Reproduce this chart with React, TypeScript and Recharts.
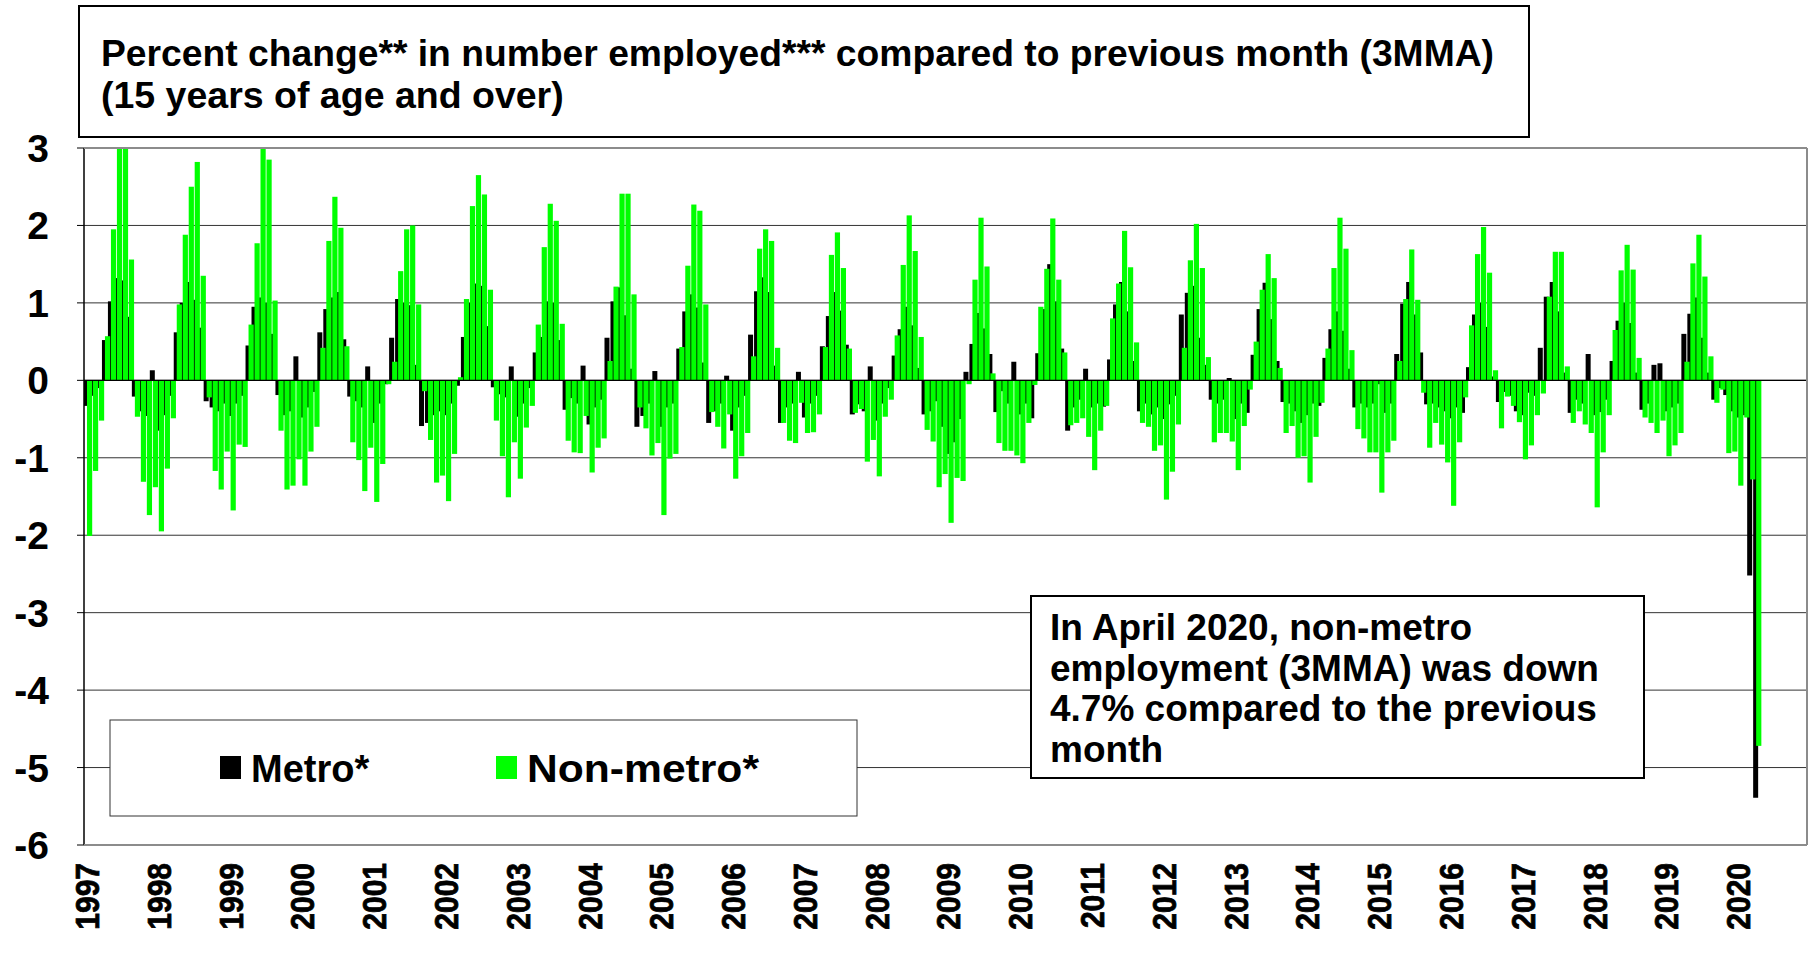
import { BarChart, Bar, XAxis, YAxis, CartesianGrid, ReferenceLine } from 'recharts'

// Year labels on the category axis (Jan of each year)
const years = [
  '1997', '1998', '1999', '2000', '2001', '2002', '2003', '2004', '2005', '2006', '2007', '2008',
  '2009', '2010', '2011', '2012', '2013', '2014', '2015', '2016', '2017', '2018', '2019', '2020',
]
const monthCodes = ['01', '02', '03', '04', '05', '06', '07', '08', '09', '10', '11', '12']
const yTicks = [-6, -5, -4, -3, -2, -1, 0, 1, 2, 3]

// Metro*: % change vs previous month (3MMA), Jan 1997 - Apr 2020, one line per year
const metro = [
  -0.33, -0.2, -0.1, 0.52, 1.02, 1.32, 1.29, 0.82, -0.21, -0.4, -0.46, 0.13,
  -0.65, -0.45, -0.2, 0.62, 1.0, 1.27, 1.04, 0.68, -0.27, -0.35, -0.4, -0.3,
  -0.46, -0.3, -0.2, 0.45, 0.95, 1.07, 1.0, 0.6, -0.19, -0.45, -0.4, 0.31,
  -0.48, -0.35, -0.15, 0.62, 0.92, 1.07, 1.14, 0.53, -0.21, -0.27, -0.35, 0.18,
  -0.55, -0.3, -0.05, 0.55, 1.05, 1.0, 0.97, 0.2, -0.59, -0.55, -0.45, -0.4,
  -0.45, -0.3, -0.07, 0.56, 1.0, 1.25, 1.22, 0.7, -0.09, -0.18, -0.22, 0.18,
  -0.47, -0.3, -0.1, 0.36, 0.56, 1.02, 1.0, 0.52, -0.38, -0.23, -0.3, 0.19,
  -0.57, -0.35, -0.25, 0.55, 1.02, 1.2, 0.84, 0.15, -0.6, -0.46, -0.3, 0.12,
  -0.6, -0.35, -0.3, 0.41, 0.89, 1.11, 0.94, 0.23, -0.55, -0.4, -0.3, 0.06,
  -0.65, -0.35, -0.2, 0.59, 1.15, 1.33, 1.14, 0.19, -0.55, -0.35, -0.3, 0.11,
  -0.48, -0.3, -0.2, 0.44, 0.83, 1.14, 0.9, 0.46, -0.44, -0.31, -0.4, 0.18,
  -0.52, -0.3, -0.1, 0.32, 0.66, 0.95, 0.71, 0.16, -0.44, -0.4, -0.27, -0.6,
  -0.95, -0.8, -0.5, 0.11, 0.47, 0.87, 0.67, 0.34, -0.41, -0.14, -0.3, 0.24,
  -0.44, -0.3, -0.49, 0.35, 0.92, 1.5, 1.02, 0.41, -0.65, -0.35, -0.25, 0.15,
  -0.35, -0.3, -0.34, 0.27, 0.98, 1.27, 0.89, 0.25, -0.4, -0.3, -0.44, -0.35,
  -0.5, -0.31, -0.2, 0.85, 1.13, 1.22, 0.55, 0.2, -0.25, -0.3, -0.25, 0.03,
  -0.5, -0.3, -0.42, 0.33, 0.92, 1.26, 0.79, 0.25, -0.28, -0.3, -0.4, -0.55,
  -0.45, -0.3, -0.33, 0.29, 0.66, 0.89, 0.64, 0.15, -0.35, -0.3, -0.35, -0.3,
  -0.05, -0.42, -0.3, 0.34, 0.99, 1.27, 0.85, 0.36, -0.31, -0.3, -0.35, -0.4,
  -0.49, -0.35, -0.42, 0.17, 0.85, 1.0, 0.69, 0.05, -0.28, -0.15, -0.2, -0.4,
  -0.45, -0.16, -0.2, 0.42, 1.08, 1.27, 0.89, 0.1, -0.42, -0.25, -0.3, 0.34,
  -0.45, -0.41, -0.25, 0.25, 0.77, 1.0, 0.74, 0.1, -0.38, -0.3, 0.2, 0.22,
  -0.4, -0.35, -0.3, 0.6, 0.86, 1.07, 0.55, 0.1, -0.25, -0.1, -0.19, -0.4,
  -0.48, -0.45, -2.52, -5.39,
]

// Non-metro*
const nonMetro = [
  -2.01, -1.17, -0.52, 0.57, 1.95, 3.3, 3.2, 1.56, -0.47, -1.31, -1.74, -1.38,
  -1.95, -1.14, -0.49, 0.98, 1.88, 2.5, 2.82, 1.35, -0.22, -1.17, -1.41, -0.92,
  -1.68, -0.83, -0.86, 0.72, 1.77, 3.1, 2.85, 1.03, -0.65, -1.41, -1.36, -1.02,
  -1.36, -0.92, -0.6, 0.42, 1.8, 2.37, 1.97, 0.44, -0.8, -1.03, -1.43, -0.87,
  -1.57, -1.08, -0.05, 0.24, 1.41, 1.95, 2.0, 0.98, -0.14, -0.77, -1.32, -1.23,
  -1.56, -0.95, 0.04, 1.05, 2.25, 2.65, 2.4, 1.17, -0.52, -0.98, -1.51, -0.8,
  -1.27, -0.61, -0.33, 0.72, 1.72, 2.28, 2.06, 0.73, -0.78, -0.93, -0.94, -0.46,
  -1.19, -0.87, -0.75, 0.25, 1.21, 2.41, 2.41, 1.11, -0.35, -0.62, -0.97, -0.81,
  -1.74, -1.01, -0.95, 0.43, 1.48, 2.27, 2.19, 0.98, -0.41, -0.6, -0.88, -0.44,
  -1.27, -0.98, -0.68, 0.31, 1.7, 1.95, 1.8, 0.42, -0.55, -0.78, -0.81, -0.29,
  -0.68, -0.67, -0.44, 0.43, 1.62, 1.91, 1.45, 0.41, -0.42, -0.37, -1.05, -0.77,
  -1.24, -0.47, -0.25, 0.58, 1.49, 2.13, 1.67, 0.56, -0.64, -0.79, -1.38, -1.21,
  -1.84, -1.26, -1.3, -0.05, 1.3, 2.1, 1.47, 0.09, -0.81, -0.91, -0.91, -0.97,
  -1.07, -0.55, -0.06, 0.95, 1.44, 2.09, 1.3, 0.36, -0.58, -0.55, -0.49, -0.73,
  -1.16, -0.65, -0.33, 0.8, 1.25, 1.93, 1.46, 0.49, -0.55, -0.6, -0.91, -0.84,
  -1.54, -1.18, -0.57, 0.42, 1.55, 2.02, 1.45, 0.3, -0.8, -0.68, -0.68, -0.79,
  -1.16, -0.59, -0.12, 0.5, 1.17, 1.63, 1.32, 0.16, -0.68, -0.59, -1.0, -0.98,
  -1.32, -0.73, -0.29, 0.41, 1.45, 2.1, 1.7, 0.39, -0.63, -0.75, -0.93, -0.93,
  -1.45, -0.93, -0.78, 0.25, 1.05, 1.69, 1.04, -0.16, -0.87, -0.55, -0.83, -1.06,
  -1.62, -0.8, -0.22, 0.71, 1.63, 1.98, 1.39, 0.13, -0.62, -0.21, -0.33, -0.54,
  -1.02, -0.84, -0.45, -0.17, 1.08, 1.66, 1.66, 0.18, -0.55, -0.4, -0.57, -0.68,
  -1.64, -0.93, -0.45, 0.65, 1.42, 1.75, 1.43, 0.29, -0.48, -0.55, -0.68, -0.52,
  -0.98, -0.84, -0.68, 0.24, 1.51, 1.88, 1.34, 0.31, -0.29, -0.12, -0.94, -0.92,
  -1.36, -0.48, -1.28, -4.72,
]

const titleLines = [
  'Percent change** in number employed*** compared to previous month (3MMA)',
  '(15 years of age and over)',
]
const noteLines = [
  'In April 2020, non-metro',
  'employment (3MMA) was down',
  '4.7% compared to the previous',
  'month',
]

const FONT = '"Liberation Sans", Arial, sans-serif'
const GREEN = '#00ff00'

// axis runs through Dec 2020, data stops in Apr 2020
const months = years.flatMap(y => monthCodes.map(m => `${y}-${m}`))
const chartData = months.map((month, i) => ({
  month,
  metro: i < metro.length ? metro[i] : null,
  nonMetro: i < nonMetro.length ? nonMetro[i] : null,
}))

// Excel-style overlapped columns: each bar is wider than its slot
const makeBar = (fill: string, w: number) => (props: any) => {
  const { x, y, height } = props
  if (x == null || y == null || !height) return <g />
  const top = Math.min(y, y + height)
  return <rect x={x} y={top} width={w} height={Math.abs(height)} fill={fill} />
}
const MetroBar = makeBar('#000000', 5)
const NonMetroBar = makeBar(GREEN, 5.2)

function YearTick(props: any) {
  const { x, payload, index } = props
  const idx = typeof index === 'number' ? index : months.indexOf(payload.value)
  if (idx % 12 !== 0) return <g />
  const label = years[Math.floor(idx / 12)]
  return (
    <text
      transform={`translate(${x + 12}, 863) rotate(-90) scale(1, 1.12)`}
      textAnchor="end"
      fontFamily={FONT}
      fontWeight="bold"
      fontSize={30}
      fill="#000"
      stroke="#000"
      strokeWidth={0.7}
    >
      {label}
    </text>
  )
}

function ValueTick(props: any) {
  const { y, payload } = props
  return (
    <text x={49} y={y + 14} textAnchor="end" fontFamily={FONT} fontWeight="bold" fontSize={39} fill="#000">
      {payload.value}
    </text>
  )
}

export default function App() {
  return (
    <div style={{ position: 'absolute', left: 0, top: 0, width: 1816, height: 953, background: '#fff' }}>
      <BarChart
        width={1816}
        height={953}
        data={chartData}
        margin={{ top: 148, right: 9, bottom: 0, left: 0 }}
        barCategoryGap={0}
        barGap={0}
      >
        <CartesianGrid vertical={false} stroke="#333" />
        <XAxis
          dataKey="month"
          interval={0}
          height={108}
          axisLine={false}
          tickLine={false}
          tick={(p: any) => <YearTick {...p} />}
        />
        <YAxis
          domain={[-6, 3]}
          ticks={yTicks}
          allowDataOverflow
          width={84}
          axisLine={{ stroke: '#000', strokeWidth: 1.5 }}
          tickLine={{ stroke: '#000' }}
          tickSize={7}
          tick={(p: any) => <ValueTick {...p} />}
        />
        <Bar dataKey="metro" fill="#000" shape={MetroBar} isAnimationActive={false} />
        <Bar dataKey="nonMetro" fill={GREEN} shape={NonMetroBar} isAnimationActive={false} />
        <ReferenceLine y={0} stroke="#000" strokeWidth={1.2} />
      </BarChart>

      <svg
        width={1816}
        height={953}
        style={{ position: 'absolute', left: 0, top: 0, pointerEvents: 'none' }}
      >
        {/* plot frame */}
        <line x1={84} y1={148} x2={1807} y2={148} stroke="#8c8c8c" strokeWidth={2} />
        <line x1={1807} y1={148} x2={1807} y2={845} stroke="#8c8c8c" strokeWidth={2} />
        <line x1={84} y1={845} x2={1807} y2={845} stroke="#8c8c8c" strokeWidth={2} />

        {/* title box */}
        <rect x={79} y={6} width={1450} height={131} fill="#fff" stroke="#000" strokeWidth={2} />
        {titleLines.map((t, i) => (
          <text
            key={t}
            x={101}
            y={66 + i * 42}
            fontFamily={FONT}
            fontWeight="bold"
            fontSize={37.5}
            fill="#000"
            textLength={i === 0 ? 1393 : undefined}
            lengthAdjust="spacingAndGlyphs"
          >
            {t}
          </text>
        ))}

        {/* legend */}
        <rect x={110} y={720} width={747} height={96} fill="#fff" stroke="#333" strokeWidth={1} />
        <rect x={220} y={756} width={21} height={23} fill="#000" />
        <text x={251} y={782} fontFamily={FONT} fontWeight="bold" fontSize={38} fill="#000">Metro*</text>
        <rect x={496} y={756} width={21} height={23} fill={GREEN} />
        <text
          x={527}
          y={782}
          fontFamily={FONT}
          fontWeight="bold"
          fontSize={39}
          fill="#000"
          textLength={232}
          lengthAdjust="spacingAndGlyphs"
        >
          Non-metro*
        </text>

        {/* annotation */}
        <rect x={1031} y={596} width={613} height={182} fill="#fff" stroke="#000" strokeWidth={2} />
        {noteLines.map((t, i) => (
          <text key={t} x={1050} y={640 + i * 40.7} fontFamily={FONT} fontWeight="bold" fontSize={37} fill="#000">
            {t}
          </text>
        ))}
      </svg>
    </div>
  )
}
